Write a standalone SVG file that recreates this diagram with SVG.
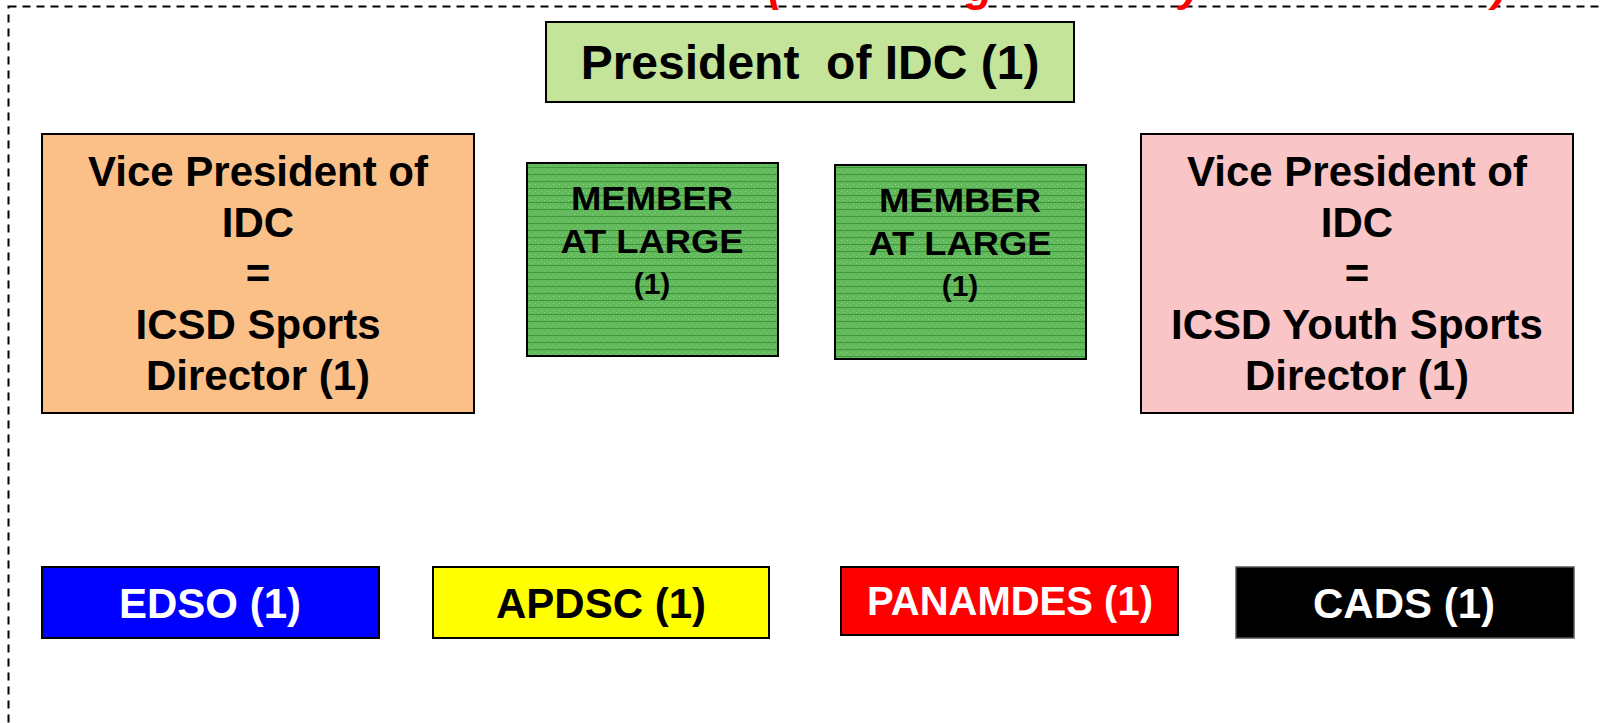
<svg xmlns="http://www.w3.org/2000/svg" width="1601" height="723" viewBox="0 0 1601 723">
  <style>
    .t { font-family: "Liberation Sans", Arial, sans-serif; font-weight: bold; text-anchor: middle; fill: #000; }
    .w { fill: #fff; }
    .box { stroke: #000; stroke-width: 2; }
    .red { font-family: "Liberation Sans", Arial, sans-serif; font-weight: bold; font-style: italic; fill: #ff0000; font-size: 44px; }
  </style>
  <defs>
    <pattern id="memberTex" width="6" height="7" patternUnits="userSpaceOnUse">
      <rect width="6" height="7" fill="#62b95c"/>
      <rect x="0" y="6" width="6" height="1" fill="#3f9a3d"/>
      <rect x="1" y="2" width="1" height="1" fill="#8fd087"/>
      <rect x="4" y="4" width="1" height="1" fill="#8fd087"/>
    </pattern>
  </defs>
  <rect x="8.5" y="6.5" width="1700" height="800" fill="none" stroke="#000" stroke-width="2" stroke-dasharray="8 6"/>
  <text class="red" y="1"><tspan x="768">(</tspan><tspan x="966">g</tspan><tspan x="1179">y</tspan><tspan x="1492">)</tspan></text>

  <g id="president">
    <rect class="box" x="546" y="22" width="528" height="80" fill="#c4e49a"/>
    <text class="t" x="810" y="79" font-size="48" xml:space="preserve">President  of IDC (1)</text>
  </g>

  <g id="vp-sports">
    <rect class="box" x="42" y="134" width="432" height="279" fill="#fbbf88"/>
    <text class="t" x="258" y="186" font-size="42">Vice President of</text>
    <text class="t" x="258" y="237" font-size="42">IDC</text>
    <text class="t" x="258" y="288" font-size="42">=</text>
    <text class="t" x="258" y="339" font-size="42">ICSD Sports</text>
    <text class="t" x="258" y="390" font-size="42">Director (1)</text>
  </g>

  <g id="member1">
    <rect class="box" x="527" y="163" width="251" height="193" fill="url(#memberTex)"/>
    <text class="t" x="652" y="210" font-size="33" textLength="162" lengthAdjust="spacingAndGlyphs">MEMBER</text>
    <text class="t" x="652" y="253" font-size="33" textLength="183" lengthAdjust="spacingAndGlyphs">AT LARGE</text>
    <text class="t" x="652" y="294" font-size="30">(1)</text>
  </g>

  <g id="member2">
    <rect class="box" x="835" y="165" width="251" height="194" fill="url(#memberTex)"/>
    <text class="t" x="960" y="212" font-size="33" textLength="162" lengthAdjust="spacingAndGlyphs">MEMBER</text>
    <text class="t" x="960" y="255" font-size="33" textLength="183" lengthAdjust="spacingAndGlyphs">AT LARGE</text>
    <text class="t" x="960" y="296" font-size="30">(1)</text>
  </g>

  <g id="vp-youth">
    <rect class="box" x="1141" y="134" width="432" height="279" fill="#f9c5c6"/>
    <text class="t" x="1357" y="186" font-size="42">Vice President of</text>
    <text class="t" x="1357" y="237" font-size="42">IDC</text>
    <text class="t" x="1357" y="288" font-size="42">=</text>
    <text class="t" x="1357" y="339" font-size="42">ICSD Youth Sports</text>
    <text class="t" x="1357" y="390" font-size="42">Director (1)</text>
  </g>

  <g id="edso">
    <rect class="box" x="42" y="567" width="337" height="71" fill="#0000ff"/>
    <text class="t w" x="210" y="618" font-size="42">EDSO (1)</text>
  </g>

  <g id="apdsc">
    <rect class="box" x="433" y="567" width="336" height="71" fill="#ffff00"/>
    <text class="t" x="601" y="618" font-size="42">APDSC (1)</text>
  </g>

  <g id="panamdes">
    <rect class="box" x="841" y="567" width="337" height="68" fill="#ff0000"/>
    <text class="t w" x="1010" y="615" font-size="40">PANAMDES (1)</text>
  </g>

  <g id="cads">
    <rect x="1236" y="567" width="338" height="71" fill="#000" stroke="#555" stroke-width="1.5"/>
    <text class="t w" x="1404" y="618" font-size="42">CADS (1)</text>
  </g>

  <g id="connectors"></g>
</svg>
